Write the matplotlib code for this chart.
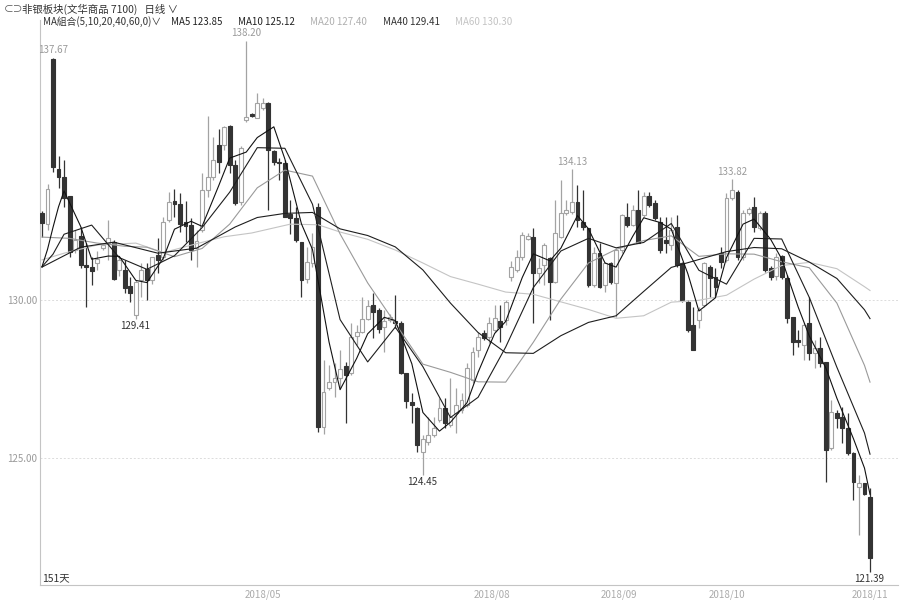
import matplotlib
matplotlib.use('Agg')
import matplotlib.pyplot as plt

plt.rcParams['font.family'] = ['Noto Sans CJK SC', 'DejaVu Sans']

# daily candles, oldest first
opens = [132.76, 132.40, 137.61, 134.13, 133.89, 133.29, 131.58, 132.02, 131.10, 131.04,
         131.17, 131.64, 131.80, 131.83, 130.95, 130.95, 130.44, 129.52, 130.63, 130.98,
         130.63, 131.42, 131.36, 132.53, 133.13, 133.03, 132.47, 132.37, 131.64, 132.21,
         133.48, 133.89, 134.90, 134.90, 135.50, 134.27, 133.10, 135.70, 135.88, 135.76,
         136.07, 136.23, 134.71, 134.37, 134.33, 132.72, 132.59, 131.83, 130.66, 131.17,
         132.94, 125.98, 127.21, 127.40, 127.53, 127.91, 127.69, 128.86, 128.99, 129.40,
         129.84, 129.68, 129.15, 129.37, 129.33, 129.27, 127.69, 126.77, 126.58, 125.19,
         125.51, 125.73, 126.20, 126.58, 126.04, 126.42, 126.52, 126.67, 127.47, 128.42,
         128.95, 128.83, 129.05, 129.33, 129.37, 130.73, 130.95, 131.36, 131.93, 131.99,
         130.85, 131.10, 131.33, 130.57, 131.99, 132.75, 132.78, 133.10, 132.47, 132.28,
         130.47, 131.49, 130.47, 131.17, 130.54, 131.58, 132.62, 132.37, 132.85, 132.69,
         133.29, 133.07, 132.47, 131.90, 131.74, 132.31, 131.17, 129.94, 129.21, 129.37,
         129.84, 131.04, 130.73, 131.49, 131.26, 133.23, 133.42, 131.36, 132.75, 132.94,
         132.28, 132.75, 131.01, 130.76, 131.39, 130.69, 129.46, 128.73, 128.58, 129.27,
         128.32, 128.48, 128.04, 125.32, 126.42, 126.29, 125.95, 125.16, 124.08, 124.21,
         123.76]
highs = [132.80, 133.67, 137.67, 134.55, 134.43, 133.29, 132.21, 132.31, 131.80, 131.36,
         131.55, 131.80, 132.53, 131.90, 131.36, 131.27, 130.73, 130.63, 131.17, 131.17,
         131.36, 131.96, 132.62, 133.42, 133.51, 133.38, 133.13, 132.59, 132.21, 134.02,
         135.82, 135.16, 135.41, 135.50, 135.54, 134.43, 134.87, 138.20, 135.91, 136.55,
         136.39, 136.26, 134.74, 134.49, 134.43, 133.16, 132.94, 131.83, 131.67, 132.12,
         133.07, 128.10, 127.94, 127.99, 128.42, 128.04, 129.27, 129.21, 130.09, 130.00,
         130.22, 129.75, 129.68, 129.56, 130.16, 129.33, 127.69, 127.05, 126.61, 125.73,
         126.29, 126.29, 126.90, 126.90, 127.53, 127.21, 127.05, 128.00, 128.51, 128.99,
         129.05, 129.46, 129.84, 129.84, 130.00, 131.23, 131.58, 132.15, 132.12, 132.28,
         131.33, 131.80, 131.36, 133.16, 133.80, 133.16, 134.13, 133.64, 133.48, 132.28,
         131.67, 131.80, 131.20, 131.20, 131.64, 132.72, 133.07, 133.00, 133.48, 133.42,
         133.42, 133.16, 132.62, 132.62, 132.62, 132.69, 131.20, 130.00, 129.78, 129.78,
         131.20, 131.10, 131.01, 131.67, 133.38, 133.82, 133.48, 132.85, 132.94, 133.26,
         132.81, 132.81, 131.07, 131.49, 131.42, 130.79, 129.46, 129.05, 129.27, 130.09,
         128.73, 128.83, 128.04, 126.84, 126.52, 126.61, 126.42, 125.19, 124.46, 124.21,
         124.05]
lows = [131.99, 132.21, 134.06, 133.54, 132.94, 131.37, 131.48, 131.01, 129.78, 130.47,
        130.95, 131.58, 131.27, 130.63, 130.76, 130.22, 129.94, 129.41, 130.09, 130.00,
        130.50, 130.85, 131.26, 132.47, 132.62, 132.15, 131.83, 131.27, 131.04, 132.15,
        133.26, 133.80, 134.02, 134.74, 134.02, 133.00, 133.00, 135.63, 135.79, 135.76,
        136.01, 132.85, 134.27, 133.80, 132.62, 132.08, 131.83, 130.09, 130.54, 131.04,
        125.82, 125.76, 127.15, 126.93, 127.21, 126.11, 127.62, 128.58, 128.95, 129.37,
        128.80, 128.95, 128.35, 129.30, 129.11, 127.66, 126.58, 126.11, 125.19, 124.45,
        125.41, 125.66, 126.14, 125.95, 125.98, 125.79, 126.42, 126.61, 127.37, 128.19,
        128.73, 128.64, 128.99, 128.67, 129.21, 130.60, 130.88, 131.26, 131.90, 129.27,
        130.54, 130.47, 129.37, 130.54, 131.96, 132.69, 132.72, 132.31, 132.21, 130.41,
        130.41, 130.38, 130.25, 130.50, 129.46, 131.48, 132.31, 132.34, 131.80, 132.62,
        132.94, 132.53, 131.48, 131.48, 131.58, 131.04, 129.94, 128.99, 128.42, 129.11,
        129.78, 130.09, 130.09, 131.01, 131.20, 133.16, 131.26, 131.26, 132.69, 132.15,
        132.21, 130.88, 130.63, 130.63, 130.66, 129.27, 128.26, 128.51, 128.10, 128.10,
        127.85, 127.88, 124.24, 125.25, 125.95, 125.47, 125.09, 123.67, 122.56, 123.83,
        121.39]
closes = [132.44, 133.51, 134.20, 133.90, 133.22, 131.52, 131.90, 131.10, 131.04, 130.91,
          131.29, 131.74, 131.96, 130.66, 131.27, 130.38, 130.22, 130.57, 130.95, 130.63,
          131.36, 131.26, 132.47, 133.10, 133.03, 132.40, 132.34, 131.58, 131.86, 133.48,
          133.89, 134.43, 134.37, 135.47, 134.27, 133.07, 134.81, 135.79, 135.82, 136.23,
          136.23, 134.74, 134.37, 134.33, 132.62, 132.59, 131.90, 130.63, 131.20, 131.67,
          125.98, 127.08, 127.40, 127.53, 127.81, 127.62, 128.83, 128.98, 129.40, 129.81,
          129.62, 129.08, 129.33, 129.46, 129.27, 127.69, 126.80, 126.68, 125.41, 125.60,
          125.73, 125.95, 126.58, 126.11, 126.29, 126.68, 126.84, 127.85, 128.35, 128.83,
          128.80, 129.27, 129.43, 129.15, 129.94, 131.04, 131.36, 132.05, 132.02, 130.85,
          131.01, 131.74, 130.57, 132.12, 132.75, 132.85, 133.10, 132.53, 132.31, 130.47,
          131.49, 130.41, 131.17, 130.57, 131.58, 132.69, 132.37, 132.85, 131.80, 133.29,
          133.00, 132.59, 131.58, 131.80, 132.21, 131.10, 130.00, 129.05, 128.42, 129.68,
          131.17, 130.69, 130.41, 131.20, 133.23, 133.48, 131.36, 132.75, 132.88, 132.31,
          132.75, 130.95, 130.73, 131.36, 130.73, 129.43, 128.67, 128.67, 129.21, 128.32,
          128.48, 128.00, 125.25, 126.45, 126.26, 125.95, 125.16, 124.24, 124.21, 123.86,
          121.83]

# moving averages, read at sample candles
ma5_x = [0, 1, 2, 3, 4, 7, 9, 12, 14, 17, 19, 22, 24, 27, 29, 32, 34, 37, 39, 42, 44, 47, 49,
         52, 54, 57, 59, 62, 64, 67, 69, 72, 74, 77, 79, 82, 84, 87, 89, 92, 94, 97, 99, 102,
         104, 107, 109, 112, 114, 117, 119, 122, 124, 127, 129, 132, 134, 137, 139, 142, 144,
         147, 149, 150]
ma5_y = [131.05, 131.60, 132.30, 132.95, 133.45, 132.33, 131.29, 131.39, 131.38, 130.62,
         130.55, 131.33, 132.24, 132.49, 132.33, 133.61, 134.49, 134.68, 135.14, 135.48,
         134.46, 132.41, 131.60, 128.67, 127.16, 128.15, 128.93, 129.45, 129.35, 127.98,
         126.44, 125.85, 126.13, 126.75, 127.71, 128.94, 129.32, 130.71, 131.46, 131.24,
         131.64, 132.67, 132.25, 131.17, 131.04, 132.01, 132.60, 132.45, 132.24, 130.83,
         129.65, 130.07, 131.34, 132.40, 132.56, 131.92, 131.30, 129.77, 128.86, 127.85,
         126.89, 125.61, 124.68, 123.85]
ma10_x = [0, 2, 4, 9, 14, 19, 24, 29, 34, 39, 44, 49, 54, 59, 64, 69, 74, 79, 84, 89, 94, 99,
          104, 109, 114, 119, 124, 129, 134, 139, 144, 149, 150]
ma10_y = [131.05, 131.45, 132.08, 132.37, 131.34, 130.97, 131.40, 132.29, 133.41, 134.82,
          134.80, 133.03, 129.38, 128.04, 129.14, 127.89, 126.28, 126.92, 128.51, 130.39,
          131.55, 131.95, 131.65, 131.82, 132.42, 130.94, 130.50, 131.95, 131.93, 130.08,
          127.87, 125.79, 125.12]
ma20_x = [0, 5, 10, 15, 19, 24, 29, 34, 39, 44, 49, 54, 59, 64, 69, 74, 79, 84, 89, 94, 99,
          104, 109, 114, 119, 124, 129, 134, 139, 144, 149, 150]
ma20_y = [131.99, 131.95, 131.80, 131.70, 131.67, 131.37, 131.63, 132.40, 133.55, 134.11,
          133.92, 132.09, 130.54, 129.26, 127.97, 127.71, 127.41, 127.40, 128.66, 130.03,
          131.17, 131.60, 131.88, 132.03, 131.38, 131.46, 131.45, 131.21, 131.02, 129.90,
          127.93, 127.40]
ma40_x = [0, 7, 13, 21, 28, 35, 39, 44, 49, 54, 59, 64, 69, 74, 79, 84, 89, 94, 99, 104, 109,
          114, 119, 124, 129, 134, 139, 144, 149, 150]
ma40_y = [131.04, 131.67, 131.83, 131.48, 131.64, 132.31, 132.61, 132.74, 132.77, 132.25,
          132.04, 131.68, 130.95, 129.90, 128.97, 128.33, 128.31, 128.87, 129.29, 129.50,
          130.27, 131.03, 131.28, 131.53, 131.66, 131.62, 131.20, 130.68, 129.69, 129.41]
ma60_x = [0, 4, 10, 17, 22, 28, 33, 38, 45, 50, 54, 59, 64, 69, 74, 79, 84, 89, 94, 99, 104,
          109, 114, 119, 124, 129, 134, 139, 144, 149, 150]
ma60_y = [131.27, 131.48, 131.74, 131.80, 131.50, 131.78, 132.00, 132.12, 132.40, 132.38,
          132.15, 131.92, 131.58, 131.17, 130.74, 130.50, 130.25, 130.18, 129.94, 129.70,
          129.42, 129.50, 129.93, 129.99, 130.15, 130.66, 131.09, 131.19, 130.99, 130.42,
          130.30]

date_labels = ['2018/05', '2018/08', '2018/09', '2018/10', '2018/11']
date_pos = [40, 81.5, 104.5, 124, 150]

high_marks = [2, 37, 96, 125]
low_marks = [17, 69, 150]

dark = '#333333'
gray = '#a3a3a3'

fig = plt.figure(figsize=(9, 6), dpi=100)
ax = fig.add_axes([40 / 900, 15 / 600, 858 / 900, 565 / 600])

idx = list(range(len(closes)))
up = [c >= o for o, c in zip(opens, closes)]
wick_col = [gray if u else dark for u in up]
face_col = ['white' if u else dark for u in up]
bottoms = [min(o, c) for o, c in zip(opens, closes)]
heights = [max(abs(c - o), 0.04) for o, c in zip(opens, closes)]

ax.vlines(idx, lows, highs, colors=wick_col, linewidth=0.9, zorder=2)
ax.bar(idx, heights, bottom=bottoms, width=0.7, color=face_col,
       edgecolor=wick_col, linewidth=0.8, zorder=3)

ax.plot(ma60_x, ma60_y, color='#c4c4c4', lw=0.8, zorder=4)
ax.plot(ma20_x, ma20_y, color='#9a9a9a', lw=0.8, zorder=4)
ax.plot(ma40_x, ma40_y, color='#1e1e1e', lw=0.8, zorder=4)
ax.plot(ma10_x, ma10_y, color='#1e1e1e', lw=0.8, zorder=4)
ax.plot(ma5_x, ma5_y, color='#111111', lw=0.8, zorder=4)

for lvl in (125, 130):
    ax.axhline(lvl, color='#dcdcdc', lw=0.7, ls=(0, (2, 2)), zorder=1)

# high / low price tags
for i in high_marks:
    ax.text(i, highs[i] + 0.08, '%.2f' % highs[i], ha='center', va='bottom',
            fontsize=7, color='#9a9a9a', clip_on=True)
for i in low_marks:
    ax.text(i - 0.2, lows[i] - 0.06, '%.2f' % lows[i], ha='center', va='top',
            fontsize=7, color=dark)

ax.set_xlim(-0.36, 155.07)
ax.set_ylim(120.98, 138.86)
for s in ('top', 'right'):
    ax.spines[s].set_visible(False)
for s in ('left', 'bottom'):
    ax.spines[s].set_color('#c4c4c4')
    ax.spines[s].set_linewidth(0.8)

ax.set_yticks([125, 130])
ax.set_yticklabels(['125.00', '130.00'])
ax.tick_params(axis='y', length=0, labelsize=7, labelcolor='#9a9a9a', pad=2)
ax.set_xticks(date_pos)
ax.set_xticklabels(date_labels)
ax.tick_params(axis='x', length=0, labelsize=7, labelcolor='#ababab', pad=3)

# header lines
fig.text(4 / 900, 1 - 9 / 600, '⊂⊃', fontsize=7, color='#555555', va='center')
fig.text(22 / 900, 1 - 9 / 600, '非银板块(文华商品 7100)   日线 ∨', fontsize=7.5,
         color=dark, va='center')
legend_items = [('MA組合(5,10,20,40,60,0)∨', 43, dark),
                ('MA5 123.85', 171, '#222222'),
                ('MA10 125.12', 238, '#222222'),
                ('MA20 127.40', 310, '#b0b0b0'),
                ('MA40 129.41', 383, '#333333'),
                ('MA60 130.30', 455, '#c4c4c4')]
for txt, px, col in legend_items:
    fig.text(px / 900, 1 - 22 / 600, txt, fontsize=7, color=col, va='center')

fig.text(42 / 900, 1 - 578 / 600, '151天', fontsize=7.5, color=dark, va='center')

fig.savefig('out.png', dpi=100, facecolor='white')
